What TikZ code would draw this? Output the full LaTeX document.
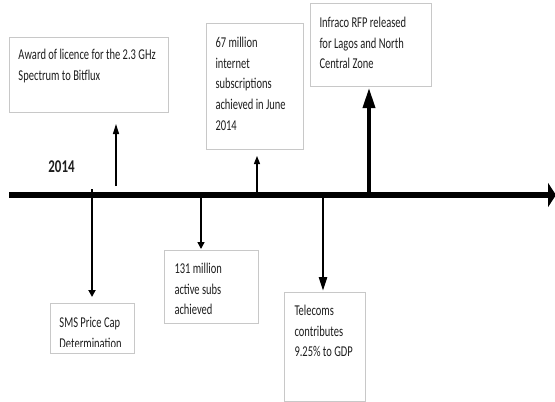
\documentclass[tikz,border=0pt]{standalone}
\usepackage{fontspec}
\setmainfont{Carlito}
\usetikzlibrary{arrows.meta}
\definecolor{boxline}{RGB}{200,200,200}
\definecolor{ink}{RGB}{30,30,30}
% narrow, tall lettering as in the scanned chart
\newcommand\evt[2]{\scalebox{0.7}[1]{\parbox[t]{#1}{\raggedright #2}}}

\begin{document}
\begin{tikzpicture}[
    x=1pt, y=-1pt,
    event/.style={draw=boxline, line width=1pt, anchor=north west, inner ysep=0pt, inner xsep=9pt, text=ink, font=\fontsize{15}{20.7}\selectfont},
    frame/.style={draw=boxline, line width=1pt},
    link/.style={-{Triangle[length=8pt, width=6pt]}, line width=1.3pt},
    axis/.style={-{Triangle[length=8pt, width=24pt]}, line width=6pt},
]
\useasboundingbox (0,0) rectangle (555,402);

% event boxes
\node[event, text height=22pt, text depth=53pt] (award) at (9,37)
    {\evt{201.4pt}{Award of licence for the 2.3 GHz\\Spectrum to Bitflux}};
\node[event, text height=24pt, text depth=102pt] (inet) at (206,23)
    {\evt{112.9pt}{67 million\\internet\\subscriptions\\achieved in June\\2014}};
\node[event, text height=24pt, text depth=59pt] (infraco) at (310,3)
    {\evt{147.1pt}{Infraco RFP released\\for Lagos and North\\Central Zone}};
\node[event, text height=23pt, text depth=50pt, inner xsep=10pt] (subs) at (164,250)
    {\evt{105.7pt}{131 million\\active subs\\achieved}};
\node[event, text height=23pt, text depth=86pt, inner xsep=10pt] (gdp) at (284,292)
    {\evt{87.1pt}{Telecoms\\contributes\\9.25\% to GDP}};
\begin{scope}
    \clip (40,300) rectangle (140,346);
    \node[event, draw=none, text height=24pt, text depth=25pt] (sms) at (50,303)
        {\evt{92.9pt}{SMS Price Cap\\Determination}};
\end{scope}
\draw[frame] (sms.north west) rectangle (sms.south east);

\node[text=ink, font=\fontsize{18}{20}\selectfont\bfseries] (year) at (61.5,167) {\scalebox{0.72}[1]{2014}};

% timeline
\coordinate (tlstart) at (9,195);
\coordinate (tlend)   at (556,195);
\draw[axis] (tlstart) -- (tlend);

% links from the timeline
\coordinate (p1) at (116,186);
\coordinate (p2) at (92,189);
\coordinate (p3) at (201,198);
\coordinate (p4) at (257,192);
\coordinate (p5) at (323,198);
\coordinate (p6) at (369,195);

\draw[link, -{Triangle[length=10pt, width=6pt]}, shorten >=11pt] (p1) -- (award.south -| p1);
\draw[link, line width=2pt, -{Triangle[length=7pt, width=7pt]}, shorten >=6pt] (p2) -- (sms.north -| p2);
\draw[link, line width=1.5pt, -{Triangle[length=7pt, width=7pt]}, shorten >=1pt] (p3) -- (subs.north -| p3);
\draw[link, shorten >=6pt] (p4) -- (inet.south -| p4);
\draw[link, line width=2.5pt, -{Triangle[length=14pt, width=8pt]}, shorten >=1pt] (p5) -- (gdp.north -| p5);
\draw[link, line width=3.5pt, -{Triangle[length=20pt, width=12pt]}, shorten >=1pt] (p6) -- (infraco.south -| p6);

\end{tikzpicture}
\end{document}
